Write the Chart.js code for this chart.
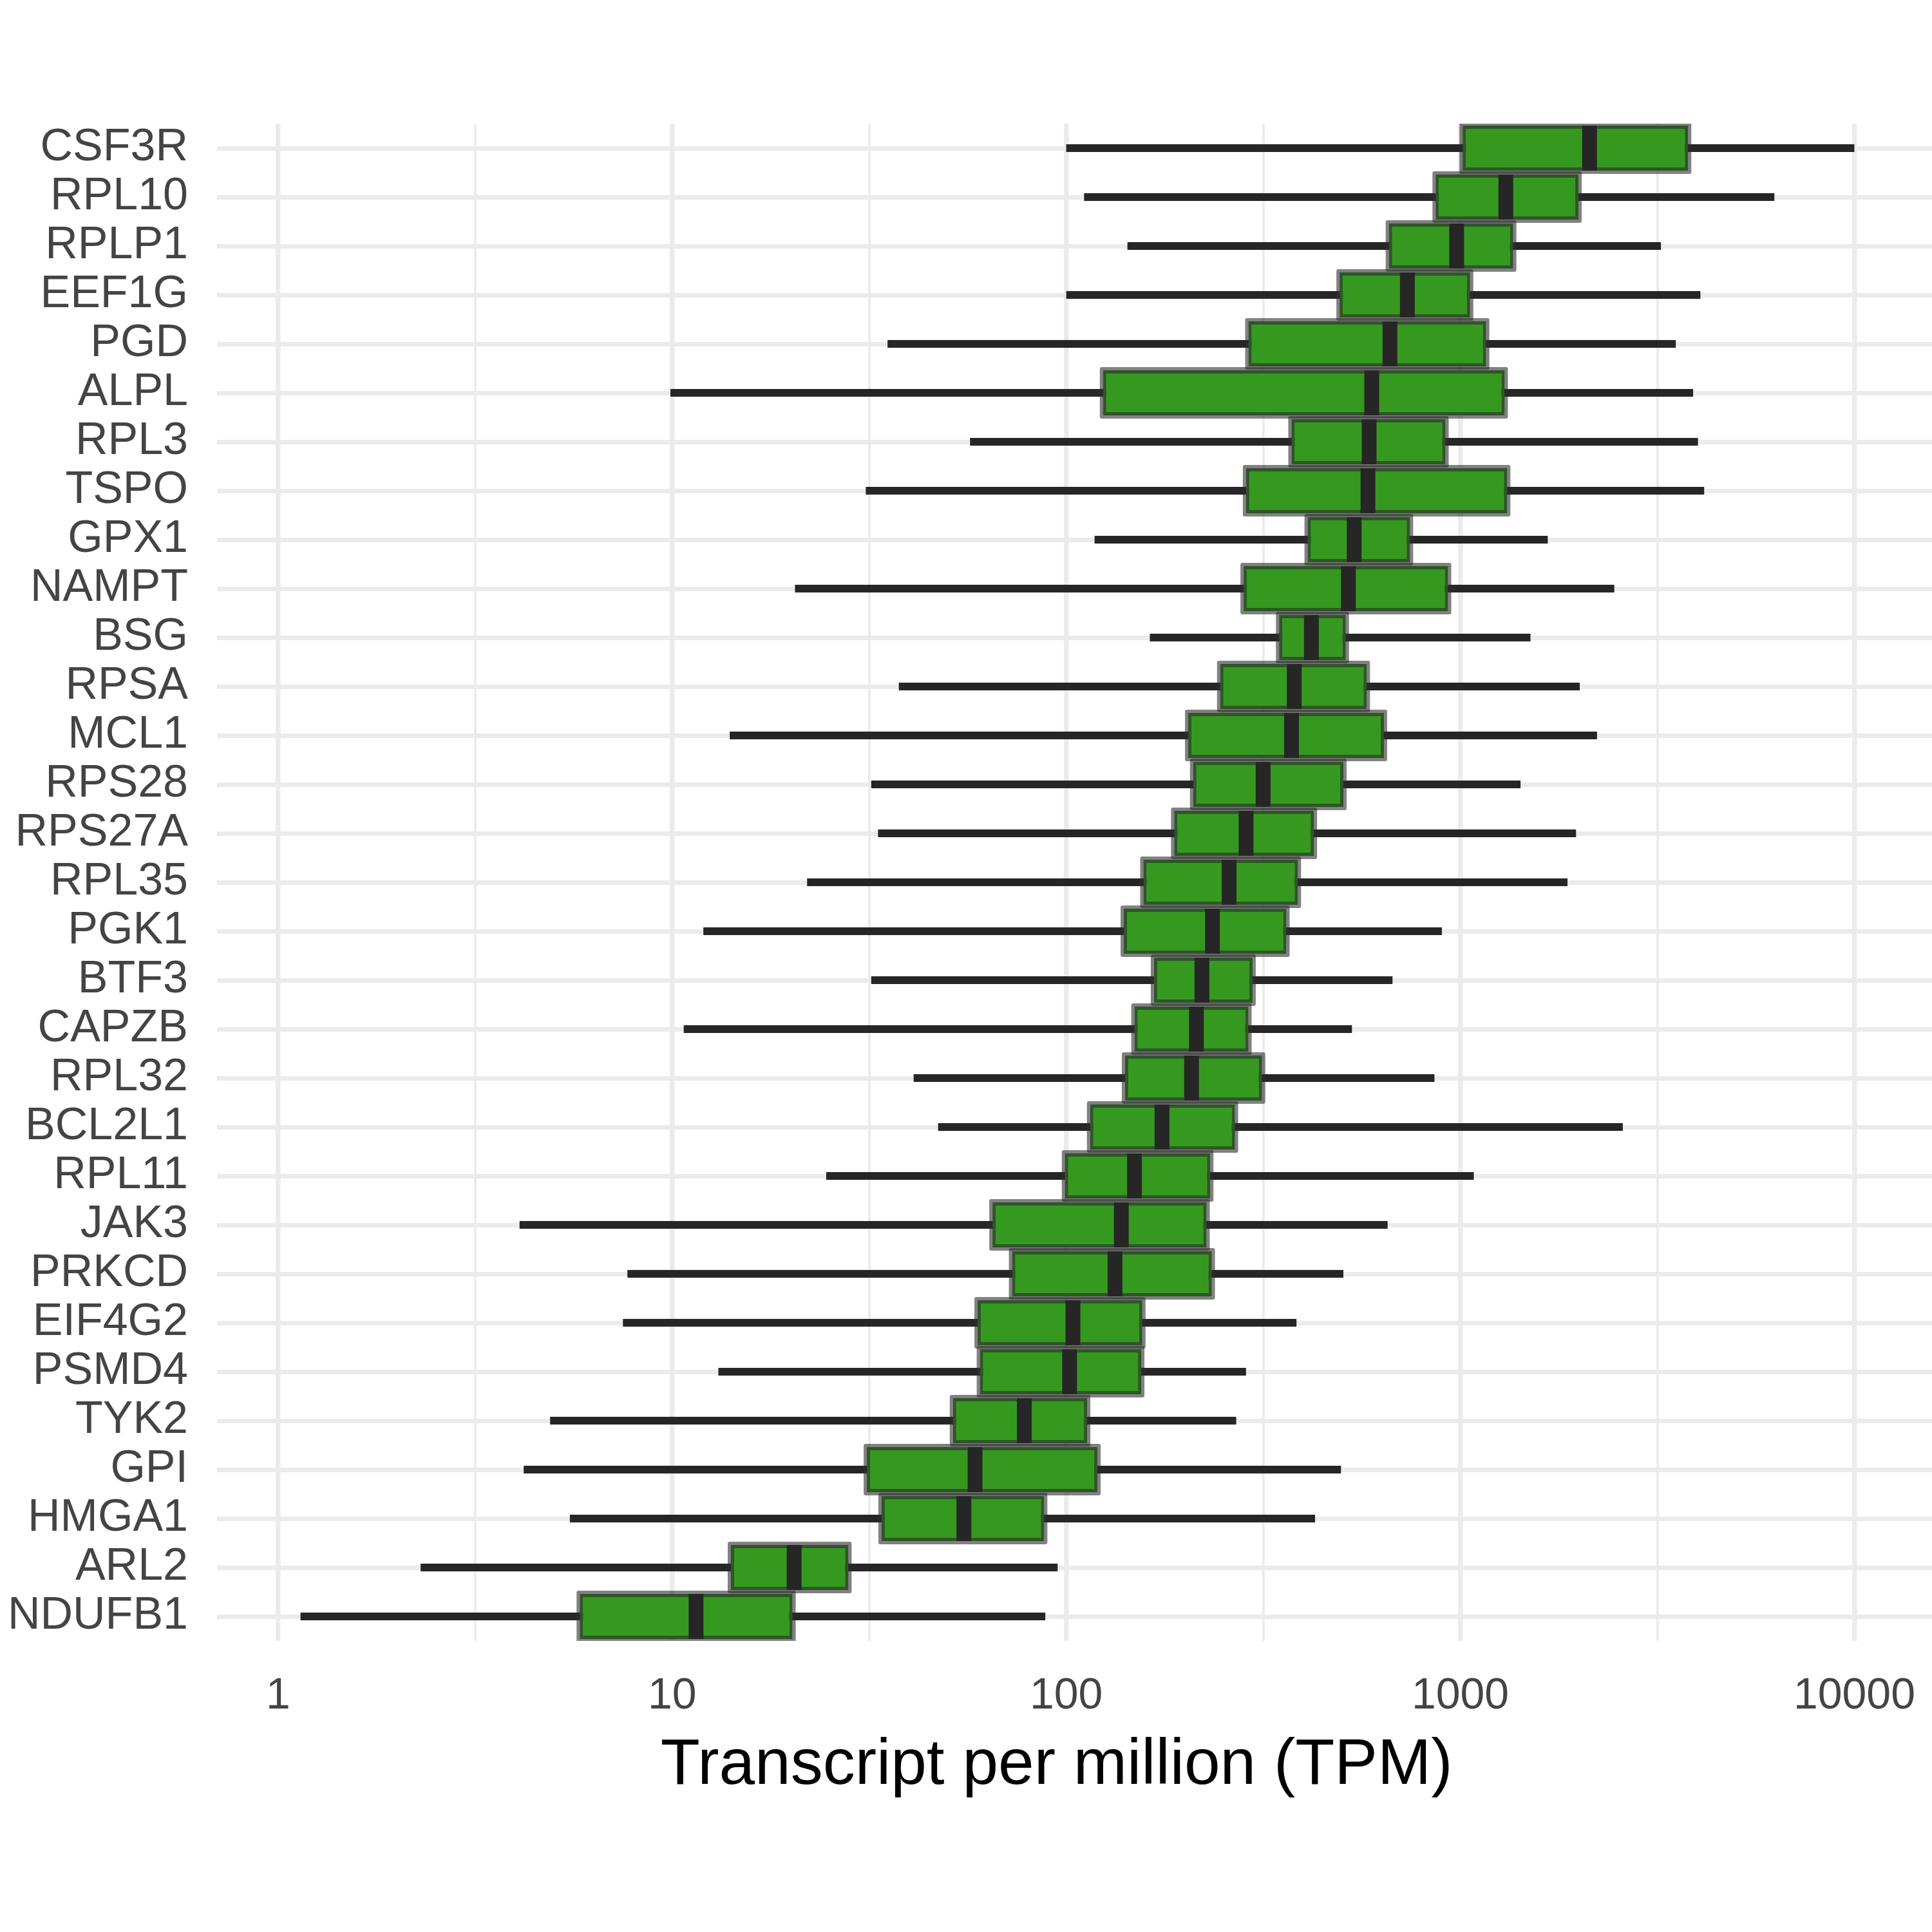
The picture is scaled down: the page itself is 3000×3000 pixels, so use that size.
<!DOCTYPE html>
<html>
<head>
<meta charset="utf-8">
<script src="https://cdn.jsdelivr.net/npm/chart.js@4.4.1/dist/chart.umd.min.js"></script>
<style>
  html, body { margin: 0; padding: 0; background: #fff; }
  #wrap { width: 3000px; height: 3000px; }
</style>
</head>
<body>
<div id="wrap"><canvas id="tpmChart" width="3000" height="3000"></canvas></div>
<script>
const genes = ['CSF3R', 'RPL10', 'RPLP1', 'EEF1G', 'PGD', 'ALPL', 'RPL3', 'TSPO', 'GPX1', 'NAMPT',
  'BSG', 'RPSA', 'MCL1', 'RPS28', 'RPS27A', 'RPL35', 'PGK1', 'BTF3', 'CAPZB', 'RPL32',
  'BCL2L1', 'RPL11', 'JAK3', 'PRKCD', 'EIF4G2', 'PSMD4', 'TYK2', 'GPI', 'HMGA1', 'ARL2', 'NDUFB1'];

const lowWhisker = [100, 111, 143, 100, 35.2, 9.9, 57, 31, 118, 20.5,
  163, 37.6, 14, 32, 33.3, 22, 12, 32, 10.7, 41,
  47.3, 24.6, 4.1, 7.7, 7.5, 13.1, 4.9, 4.2, 5.5, 2.3, 1.14];
const q1 = [1014, 866, 659, 494, 290, 124, 373, 286, 410, 282,
  347, 246, 204, 210, 188, 157, 140, 167, 149, 141,
  115, 99.3, 65, 72.9, 59.6, 60.4, 51.6, 31.2, 34, 14.1, 5.83];
const medians = [2128, 1305, 979, 734, 663, 596, 587, 583, 538, 520,
  419, 379, 373, 316, 286, 259, 235, 221, 214, 208,
  175, 149, 138, 133, 104, 102, 78.3, 58.7, 55, 20.4, 11.5];
const q3 = [3785, 1995, 1362, 1059, 1163, 1296, 917, 1315, 745, 931,
  512, 579, 640, 505, 425, 387, 362, 297, 290, 314,
  268, 232, 227, 234, 156, 155, 113, 120, 87.9, 28, 20.2];
const highWhisker = [10000, 6266, 3230, 4067, 3523, 3898, 4010, 4158, 1667, 2459,
  1507, 2010, 2223, 1422, 1967, 1871, 898, 673, 531, 860,
  2585, 1082, 654, 505, 384, 286, 270, 498, 428, 95.1, 88.5];

const tickValues = [1, 10, 100, 1000, 10000];
const minorGrid = [3.162, 31.62, 316.2, 3162];
const xLimits = [0.722, 15740];

const FONT = '"Liberation Sans", Arial, Helvetica, sans-serif';

const whiskers = genes.map((g, i) => [lowWhisker[i], highWhisker[i]]);
const boxes = genes.map((g, i) => [q1[i], q3[i]]);

const tpmChart = document.getElementById('tpmChart');
new Chart(tpmChart, {
  type: 'bar',
  data: {
    labels: genes,
    datasets: [
      {
        label: 'median',
        type: 'line',
        indexAxis: 'y',
        data: medians,
        showLine: false,
        pointStyle: 'line',
        pointRadius: 35,
        pointHoverRadius: 35,
        pointRotation: 90,
        pointBorderWidth: 23,
        pointHoverBorderWidth: 23,
        pointBorderColor: '#262626',
        pointBackgroundColor: '#262626',
        order: 0
      },
      {
        label: 'box',
        data: boxes,
        backgroundColor: '#36991f',
        borderColor: '#2f5529',
        borderWidth: 5,
        borderSkipped: false,
        barThickness: 70,
        inflateAmount: 0,
        order: 1
      },
      {
        label: 'outline',
        data: boxes,
        backgroundColor: 'rgba(45,45,45,0.6)',
        borderWidth: 0,
        barThickness: 70,
        inflateAmount: 5,
        borderRadius: 3,
        borderSkipped: false,
        order: 2
      },
      {
        label: 'whisker',
        data: whiskers,
        backgroundColor: '#262626',
        borderWidth: 0,
        barThickness: 12,
        inflateAmount: 0,
        order: 3
      }
    ]
  },
  options: {
    indexAxis: 'y',
    responsive: false,
    animation: false,
    devicePixelRatio: 1,
    events: [],
    datasets: { bar: { grouped: false } },
    layout: { autoPadding: false, padding: { top: 192, left: 0, right: 0, bottom: 198 } },
    scales: {
      x: {
        type: 'logarithmic',
        min: xLimits[0],
        max: xLimits[1],
        afterBuildTicks: (scale) => {
          scale.ticks = tickValues.concat(minorGrid).sort((a, b) => a - b).map(v => ({ value: v }));
        },
        afterFit: (scale) => {
          scale.height = 254;
          scale.paddingLeft = 0;
          scale.paddingRight = 0;
        },
        border: { display: false },
        grid: {
          color: '#ebebeb',
          drawTicks: true,
          tickLength: 45,
          tickColor: 'rgba(0,0,0,0)',
          lineWidth: (ctx) => (tickValues.includes(ctx.tick && ctx.tick.value) ? 7.5 : 3.8)
        },
        ticks: {
          autoSkip: false,
          maxRotation: 0,
          padding: 0,
          color: '#444444',
          font: { family: FONT, size: 68 },
          callback: (v) => (tickValues.includes(v) ? String(v) : '')
        },
        title: {
          display: true,
          // two trailing spaces nudge the centred title a little left, as in the original
          text: 'Transcript per million (TPM)  ',
          color: '#000000',
          font: { family: FONT, size: 100 },
          padding: { top: 0, bottom: 0 }
        }
      },
      y: {
        afterFit: (scale) => {
          scale.width = 337;
          scale.paddingTop = 0;
          scale.paddingBottom = 0;
        },
        border: { display: false },
        grid: {
          offset: false,
          color: '#ebebeb',
          lineWidth: 7,
          drawTicks: false
        },
        ticks: {
          autoSkip: false,
          padding: 45,
          color: '#444444',
          font: { family: FONT, size: 70 }
        }
      }
    },
    plugins: {
      tooltip: { enabled: false },
      legend: { display: false }
    }
  }
});
</script>
</body>
</html>
